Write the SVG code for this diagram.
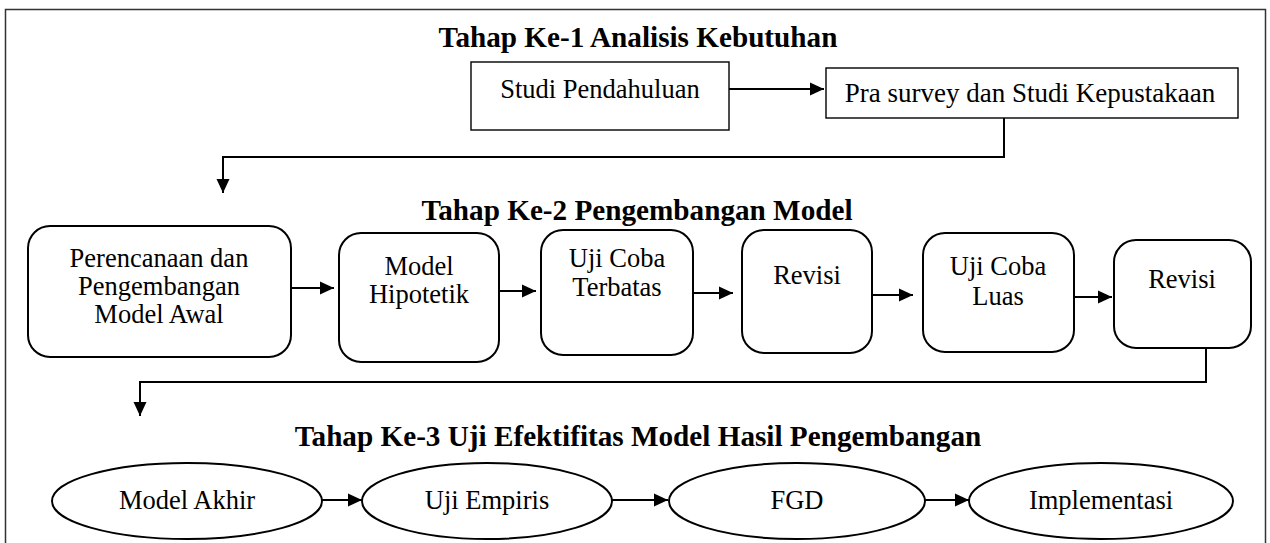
<svg xmlns="http://www.w3.org/2000/svg" width="1270" height="543" viewBox="0 0 1270 543">
  <style>
    .title { font-family: "Liberation Serif", "Times New Roman", serif; font-weight: bold; font-size: 29.2px; fill: #000; text-anchor: middle; }
    .label { font-family: "Liberation Serif", "Times New Roman", serif; font-size: 26.5px; fill: #000; text-anchor: middle; }
    .box { fill: #fff; stroke: #000; stroke-width: 1.4; }
    .rbox { fill: #fff; stroke: #000; stroke-width: 2; }
    .oval { fill: #fff; stroke: #000; stroke-width: 2; }
    .link { fill: none; stroke: #000; stroke-width: 2; }
  </style>
  <defs>
    <marker id="arrow" viewBox="0 0 14 14" refX="14" refY="7" markerWidth="14" markerHeight="14" markerUnits="userSpaceOnUse" orient="auto">
      <path d="M0,0.5 L14,7 L0,13.5 Z" fill="#000"/>
    </marker>
  </defs>

  <rect width="1270" height="543" fill="#fff"/>
  <!-- outer frame (open at the bottom edge of the page) -->
  <rect x="5.5" y="9.5" width="1260" height="560" fill="none" stroke="#333" stroke-width="1.5"/>

  <!-- stage headings -->
  <text class="title" x="638" y="47">Tahap Ke-1 Analisis Kebutuhan</text>
  <text class="title" x="637" y="220">Tahap Ke-2 Pengembangan Model</text>
  <text class="title" x="638" y="446">Tahap Ke-3 Uji Efektifitas Model Hasil Pengembangan</text>

  <!-- stage 1 -->
  <g id="studi-pendahuluan">
    <rect class="box" x="471" y="62" width="258" height="68"/>
    <text class="label" x="600" y="98">Studi Pendahuluan</text>
  </g>
  <g id="pra-survey">
    <rect class="box" x="826" y="68" width="412" height="50"/>
    <text class="label" x="1030" y="102" style="font-size:27px">Pra survey dan Studi Kepustakaan</text>
  </g>

  <!-- stage 2 -->
  <g id="perencanaan">
    <rect class="rbox" x="28" y="226" width="263" height="131" rx="22"/>
    <text class="label" x="159" y="267">Perencanaan dan</text>
    <text class="label" x="159" y="295">Pengembangan</text>
    <text class="label" x="159" y="323">Model Awal</text>
  </g>
  <g id="model-hipotetik">
    <rect class="rbox" x="339" y="233" width="160" height="129" rx="22"/>
    <text class="label" x="419" y="275">Model</text>
    <text class="label" x="419" y="303">Hipotetik</text>
  </g>
  <g id="uji-coba-terbatas">
    <rect class="rbox" x="541" y="230" width="152" height="125" rx="22"/>
    <text class="label" x="617" y="267">Uji Coba</text>
    <text class="label" x="617" y="296">Terbatas</text>
  </g>
  <g id="revisi-1">
    <rect class="rbox" x="742" y="230" width="130" height="123" rx="22"/>
    <text class="label" x="807" y="284">Revisi</text>
  </g>
  <g id="uji-coba-luas">
    <rect class="rbox" x="923" y="233" width="151" height="119" rx="22"/>
    <text class="label" x="998" y="275">Uji Coba</text>
    <text class="label" x="998" y="305">Luas</text>
  </g>
  <g id="revisi-2">
    <rect class="rbox" x="1114" y="240" width="137" height="108" rx="22"/>
    <text class="label" x="1182" y="288">Revisi</text>
  </g>

  <!-- stage 3 -->
  <g id="model-akhir">
    <ellipse class="oval" cx="187" cy="501" rx="135" ry="38"/>
    <text class="label" x="187" y="509">Model Akhir</text>
  </g>
  <g id="uji-empiris">
    <ellipse class="oval" cx="487" cy="501" rx="125" ry="38"/>
    <text class="label" x="487" y="509">Uji Empiris</text>
  </g>
  <g id="fgd">
    <ellipse class="oval" cx="797" cy="501" rx="128" ry="38"/>
    <text class="label" x="797" y="509">FGD</text>
  </g>
  <g id="implementasi">
    <ellipse class="oval" cx="1101" cy="501" rx="132" ry="38"/>
    <text class="label" x="1101" y="509">Implementasi</text>
  </g>

  <!-- connectors -->
  <g id="connectors">
    <line class="link" x1="729" y1="89" x2="824" y2="89" marker-end="url(#arrow)"/>
    <polyline class="link" points="1004,118 1004,157 223,157 223,193" marker-end="url(#arrow)"/>
    <line class="link" x1="291" y1="288" x2="334" y2="288" marker-end="url(#arrow)"/>
    <line class="link" x1="499" y1="291" x2="536" y2="291" marker-end="url(#arrow)"/>
    <line class="link" x1="693" y1="293" x2="733" y2="293" marker-end="url(#arrow)"/>
    <line class="link" x1="872" y1="295" x2="913" y2="295" marker-end="url(#arrow)"/>
    <line class="link" x1="1074" y1="297" x2="1112" y2="297" marker-end="url(#arrow)"/>
    <polyline class="link" points="1206,348 1206,382 140,382 140,416" marker-end="url(#arrow)"/>
    <line class="link" x1="322" y1="500" x2="362" y2="500" marker-end="url(#arrow)"/>
    <line class="link" x1="612" y1="500" x2="668" y2="500" marker-end="url(#arrow)"/>
    <line class="link" x1="925" y1="500" x2="969" y2="500" marker-end="url(#arrow)"/>
  </g>
</svg>
